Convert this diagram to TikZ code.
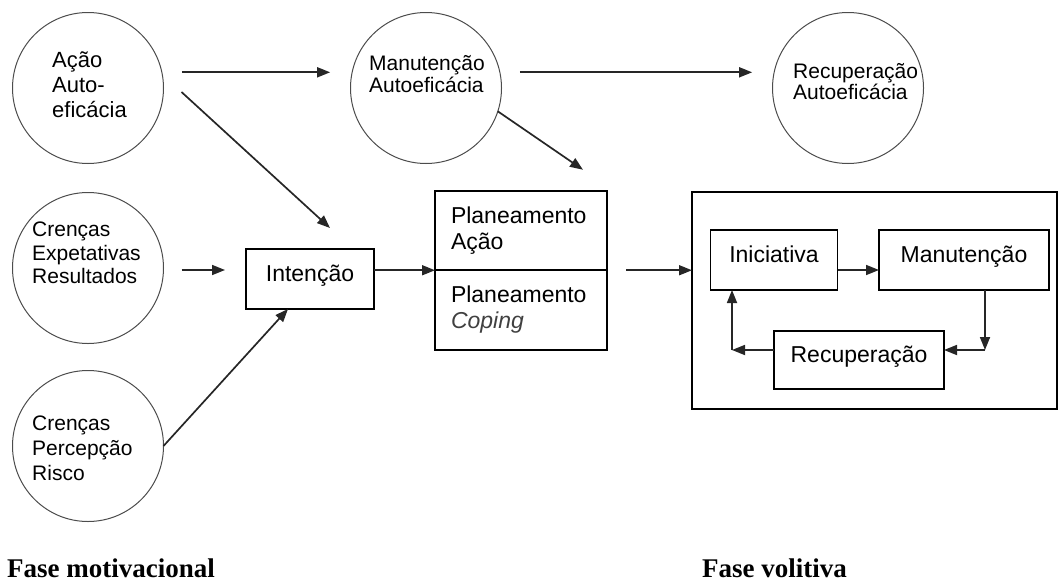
\documentclass[tikz,border=0pt]{standalone}
\usepackage{fontspec}
\setmainfont{Liberation Sans}
\newfontfamily\fasefont{Liberation Serif}
\usetikzlibrary{arrows.meta,positioning}

\tikzset{
  bola/.style={draw=black!70, line width=1pt, circle, minimum size=151pt, inner sep=0pt, outer sep=0pt},
  bolatxt/.style={anchor=west, align=left, inner sep=0pt, font=\fontsize{21}{24}\selectfont},
  caixa/.style={draw, line width=1.7pt, inner sep=0pt, outer sep=0pt, font=\fontsize{23}{26}\selectfont},
  linha/.style={text height=16pt, text depth=12pt},
  plano/.style={caixa, minimum width=172pt, minimum height=79.5pt, text width=140pt, align=left},
  seta/.style={-{Triangle[length=13pt,width=10pt]}, line width=1.7pt, draw=black!85},
  fase/.style={anchor=west, inner sep=0pt, font=\fasefont\bfseries\fontsize{27}{30}\selectfont},
}

\begin{document}
\begin{tikzpicture}[x=1pt,y=-1pt]
\useasboundingbox (0,0) rectangle (1059,581);

% circulos
\node[bola] (acao) at (88,88) {};
\node[bola] (expet) at (88,268) {};
\node[bola] (risco) at (88,446) {};
\node[bola] (manut) at (426,88) {};
\node[bola] (recup) at (848,88) {};

\node[bolatxt, font=\fontsize{22}{25}\selectfont] (acaotxt) at (52,85) {Ação\\Auto-\\eficácia};
\node[bolatxt, font=\fontsize{21}{23.5}\selectfont] (expettxt) at (32,253) {Crenças\\Expetativas\\Resultados};
\node[bolatxt, font=\fontsize{21}{25}\selectfont] (riscotxt) at (32,448) {Crenças\\Percepção\\Risco};
\node[bolatxt, font=\fontsize{21}{22}\selectfont] (manuttxt) at (369,74) {Manutenção\\Autoeficácia};
\node[bolatxt, font=\fontsize{21}{21}\selectfont] (recuptxt) at (793,82) {Recuperação\\Autoeficácia};

% caixas
\node[caixa, linha, minimum width=128pt, minimum height=60pt] (inten) at (310,279) {Intenção};
\node[plano] (planA) at (521,230.5) {Planeamento\\Ação};
\node[plano, below=0pt of planA] (planB) {Planeamento\\{\color{black!75}\itshape Coping}};

\node[draw, line width=1.7pt, minimum width=365pt, minimum height=217pt, outer sep=0pt] (volit) at (874.5,300.5) {};
\node[caixa, linha, minimum width=127pt, minimum height=60pt] (ini) at (774,260) {Iniciativa};
\node[caixa, linha, minimum width=170pt, minimum height=60pt] (man) at (964,260) {Manutenção};
\node[caixa, linha, minimum width=170pt, minimum height=58pt] (rec) at (859,360) {Recuperação};

% setas
\draw[seta, shorten <=20pt, shorten >=22pt] (acao.12) -- (manut.168);
\draw[seta, shorten <=20pt, shorten >=22pt] (manut.12) -- (recup.168);
\draw[seta] ([shift={(18,4)}]acao.east) -- ([shift={(20,-21)}]inten.north);
\draw[seta] ([shift={(18,2)}]expet.east) -- ([shift={(-21,-9)}]inten.west);
\draw[seta] (risco.east) -- ([xshift=-22pt]inten.south);
\draw[seta] (manut.-18) -- ([shift={(62,-21)}]planA.north);
\draw[seta] (inten.east |- planA.south west) -- (planA.south west);
\draw[seta, shorten <=19pt] (planA.south east) -- (planA.south east -| volit.west);

% ciclo volitivo
\coordinate (cantoR) at (985,350);
\coordinate (cantoL) at (732,350);
\draw[seta] ([yshift=-10pt]ini.east) -- ([yshift=-10pt]man.west);
\draw[seta] (cantoR |- man.south) -- (cantoR);
\draw[seta] (cantoR) -- (cantoR -| rec.east);
\draw[seta] (rec.west |- cantoL) -- (cantoL);
\draw[seta] (cantoL) -- (cantoL |- ini.south);

\node[fase] (motiv) at (7,568) {Fase motivacional};
\node[fase] (volitiva) at (702,568) {Fase volitiva};
\end{tikzpicture}
\end{document}
